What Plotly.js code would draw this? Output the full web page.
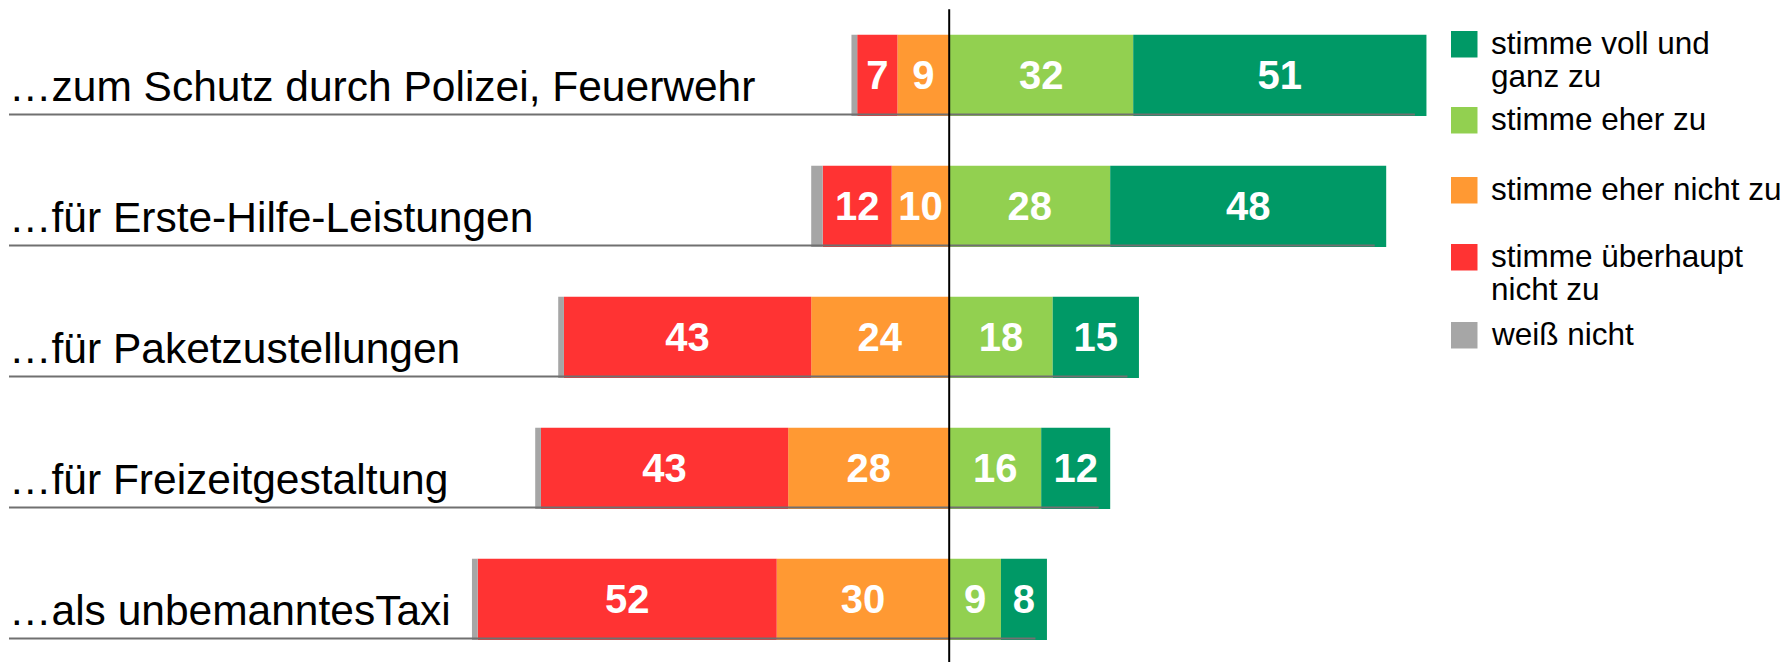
<!DOCTYPE html>
<html>
<head>
<meta charset="utf-8">
<script src="https://cdn.plot.ly/plotly-3.0.1.min.js"></script>
<style>
html,body{margin:0;padding:0;background:#fff;}
#chart{width:1789px;height:662px;}
</style>
</head>
<body>
<div id="chart"></div>
<script>
// ---- data ----
const categories = [
  '…zum Schutz durch Polizei, Feuerwehr',
  '…für Erste-Hilfe-Leistungen',
  '…für Paketzustellungen',
  '…für Freizeitgestaltung',
  '…als unbemanntesTaxi'
];
const stimmeVollUndGanzZu = [51, 48, 15, 12, 8];
const stimmeEherZu = [32, 28, 18, 16, 9];
const stimmeEherNichtZu = [9, 10, 24, 28, 30];
const stimmeUeberhauptNichtZu = [7, 12, 43, 43, 52];
const weissNicht = [1, 2, 1, 1, 1];

const seriesNames = ['stimme voll und ganz zu', 'stimme eher zu', 'stimme eher nicht zu', 'stimme überhaupt nicht zu', 'weiß nicht'];
const legendLines = [['stimme voll und', 'ganz zu'], ['stimme eher zu'], ['stimme eher nicht zu'], ['stimme überhaupt', 'nicht zu'], ['weiß nicht']];
const colors = ['#009966', '#92D050', '#FF9933', '#FF3333', '#A6A6A6'];

// ---- layout geometry (pixels) ----
const W = 1789, H = 662;
const centerPx = 949.2, pxPerUnit = 5.75;
const row0Px = 75.35, rowPitch = 131;
const barWidth = 0.62;
const FONT = 'Liberation Sans, Arial, Helvetica, sans-serif';

const xRange = [-centerPx / pxPerUnit, (W - centerPx) / pxPerUnit];
const yRange = [(H - row0Px) / rowPitch, -row0Px / rowPitch];

const neg = a => a.map(v => -v);
function barTrace(name, xs, vals, color, showText) {
  return {
    type: 'bar', orientation: 'h', name: name,
    y: categories, x: xs,
    width: barWidth,
    marker: {color: color, line: {width: 0}},
    text: showText ? vals.map(String) : undefined,
    textposition: showText ? 'inside' : 'none',
    insidetextanchor: 'middle',
    textangle: 0,
    constraintext: 'none',
    textfont: {family: FONT, size: 40, color: '#ffffff', weight: 700},
    hoverinfo: 'name+text',
    showlegend: false
  };
}

const data = [
  barTrace(seriesNames[2], neg(stimmeEherNichtZu), stimmeEherNichtZu, colors[2], true),
  barTrace(seriesNames[3], neg(stimmeUeberhauptNichtZu), stimmeUeberhauptNichtZu, colors[3], true),
  barTrace(seriesNames[4], neg(weissNicht), weissNicht, colors[4], false),
  barTrace(seriesNames[1], stimmeEherZu, stimmeEherZu, colors[1], true),
  barTrace(seriesNames[0], stimmeVollUndGanzZu, stimmeVollUndGanzZu, colors[0], true)
];

const shapes = [];
const annotations = [];

// underline per category
categories.forEach((c, i) => {
  const posTotal = stimmeEherZu[i] + stimmeVollUndGanzZu[i];
  shapes.push({
    type: 'line', xref: 'x', yref: 'y',
    x0: xRange[0] + 9 / pxPerUnit, x1: posTotal - 2,
    y0: i + barWidth / 2 - 0.012, y1: i + barWidth / 2 - 0.012,
    line: {color: '#707070', width: 2}, layer: 'above'
  });
  annotations.push({
    xref: 'paper', yref: 'y', x: 7 / W, y: i,
    xanchor: 'left', yanchor: 'middle', yshift: -11,
    text: c, showarrow: false,
    font: {family: FONT, size: 42.5, color: '#000000'}
  });
});

// center line
shapes.push({
  type: 'line', xref: 'x', yref: 'paper', x0: 0, x1: 0,
  y0: 0, y1: 1 - 9.3 / H,
  line: {color: '#000000', width: 2}, layer: 'above'
});

// custom legend
const legendSquareTop = [31, 107, 177, 244, 322];
const sq = 26.5, sqLeft = 1451, textLeft = 1489, lineStep = 33.5, legendFont = 31.5;
const legendColorIdx = [0, 1, 2, 3, 4];
legendLines.forEach((lines, k) => {
  const top = legendSquareTop[k];
  shapes.push({
    type: 'rect', xref: 'paper', yref: 'paper',
    x0: sqLeft / W, x1: (sqLeft + sq) / W,
    y0: 1 - (top + sq) / H, y1: 1 - top / H,
    fillcolor: colors[legendColorIdx[k]], line: {width: 0}
  });
  lines.forEach((t, j) => {
    const cy = top + sq / 2 - 1.5 + j * lineStep;
    annotations.push({
      xref: 'paper', yref: 'paper', x: textLeft / W, y: 1 - cy / H,
      xanchor: 'left', yanchor: 'middle',
      text: t, showarrow: false,
      font: {family: FONT, size: legendFont, color: '#000000'}
    });
  });
});

const layout = {
  width: W, height: H,
  margin: {l: 0, r: 0, t: 0, b: 0, pad: 0},
  paper_bgcolor: '#ffffff', plot_bgcolor: '#ffffff',
  barmode: 'relative',
  showlegend: false,
  xaxis: {range: xRange, visible: false, fixedrange: true},
  yaxis: {type: 'category', range: yRange, visible: false, fixedrange: true},
  shapes: shapes,
  annotations: annotations,
  font: {family: FONT}
};

Plotly.newPlot('chart', data, layout, {displayModeBar: false, staticPlot: true});
</script>
</body>
</html>
